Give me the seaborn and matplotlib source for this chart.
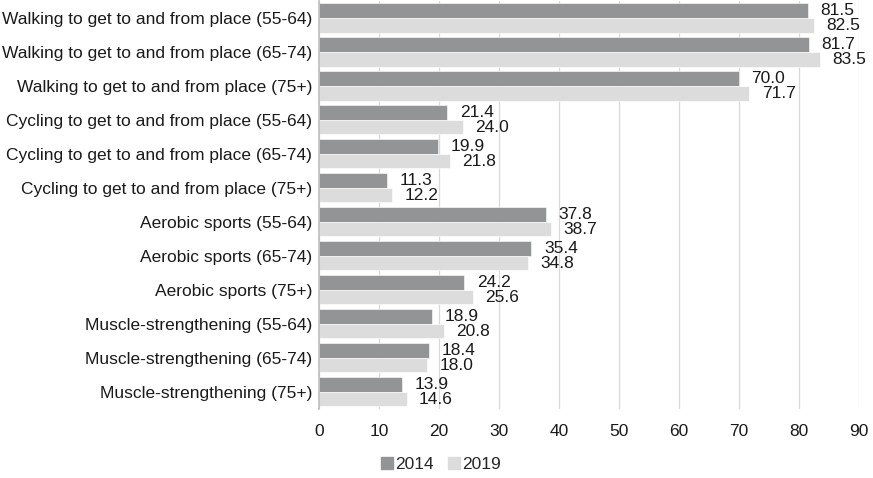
import matplotlib
matplotlib.use("Agg")
import matplotlib.pyplot as plt
import seaborn as sns
import pandas as pd

categories = [
    "Walking to get to and from place (55-64)",
    "Walking to get to and from place (65-74)",
    "Walking to get to and from place (75+)",
    "Cycling to get to and from place (55-64)",
    "Cycling to get to and from place (65-74)",
    "Cycling to get to and from place (75+)",
    "Aerobic sports (55-64)",
    "Aerobic sports (65-74)",
    "Aerobic sports (75+)",
    "Muscle-strengthening (55-64)",
    "Muscle-strengthening (65-74)",
    "Muscle-strengthening (75+)",
]
values_2014 = [81.5, 81.7, 70.0, 21.4, 19.9, 11.3, 37.8, 35.4, 24.2, 18.9, 18.4, 13.9]
values_2019 = [82.5, 83.5, 71.7, 24.0, 21.8, 12.2, 38.7, 34.8, 25.6, 20.8, 18.0, 14.6]
series = ["2014", "2019"]
x_ticks = [0, 10, 20, 30, 40, 50, 60, 70, 80, 90]

df = pd.DataFrame({
    "category": categories * 2,
    "value": values_2014 + values_2019,
    "year": [series[0]] * len(categories) + [series[1]] * len(categories),
})

sns.set_theme(style="white")
plt.rcParams["font.family"] = ["Liberation Sans", "DejaVu Sans"]

fig = plt.figure(figsize=(8.73, 4.78), dpi=100)
ax = fig.add_axes([0.3654, 0.145, 0.6186, 0.853])

palette = {"2014": "#939496", "2019": "#dcdcdd"}
sns.barplot(data=df, y="category", x="value", hue="year", palette=palette,
            orient="h", width=0.86, gap=0, ax=ax, saturation=1, legend=True,
            edgecolor="white", linewidth=0.4)

for cont in ax.containers:
    ax.bar_label(cont, fmt="%.1f", padding=9, fontsize=12.5, color="#1a1a1a")

ax.set_xlim(0, 90)
ax.set_xticks(x_ticks)
ax.set_xlabel("")
ax.set_ylabel("")
ax.set_ylim(len(categories) - 0.5, -0.5)
ax.grid(axis="x", color="#d9d9d9", linewidth=0.9)
ax.set_axisbelow(True)
for s in ["top", "right", "bottom"]:
    ax.spines[s].set_visible(False)
ax.spines["left"].set_color("#bfbfbf")
ax.tick_params(axis="x", labelsize=12.5, colors="#1a1a1a", length=0, pad=11)
ax.tick_params(axis="y", labelsize=12.5, colors="#1a1a1a", length=0, pad=5)

ax.legend_.remove()
handles = [plt.Rectangle((0, 0), 1, 1, color=palette[s]) for s in series]
fig.legend(handles, series, loc="center", bbox_to_anchor=(0.505, 0.028), ncol=2,
           frameon=False, fontsize=12.5, handlelength=0.7, handleheight=0.7,
           handletextpad=0.1, columnspacing=0.8)

fig.savefig("out.png", dpi=100)
